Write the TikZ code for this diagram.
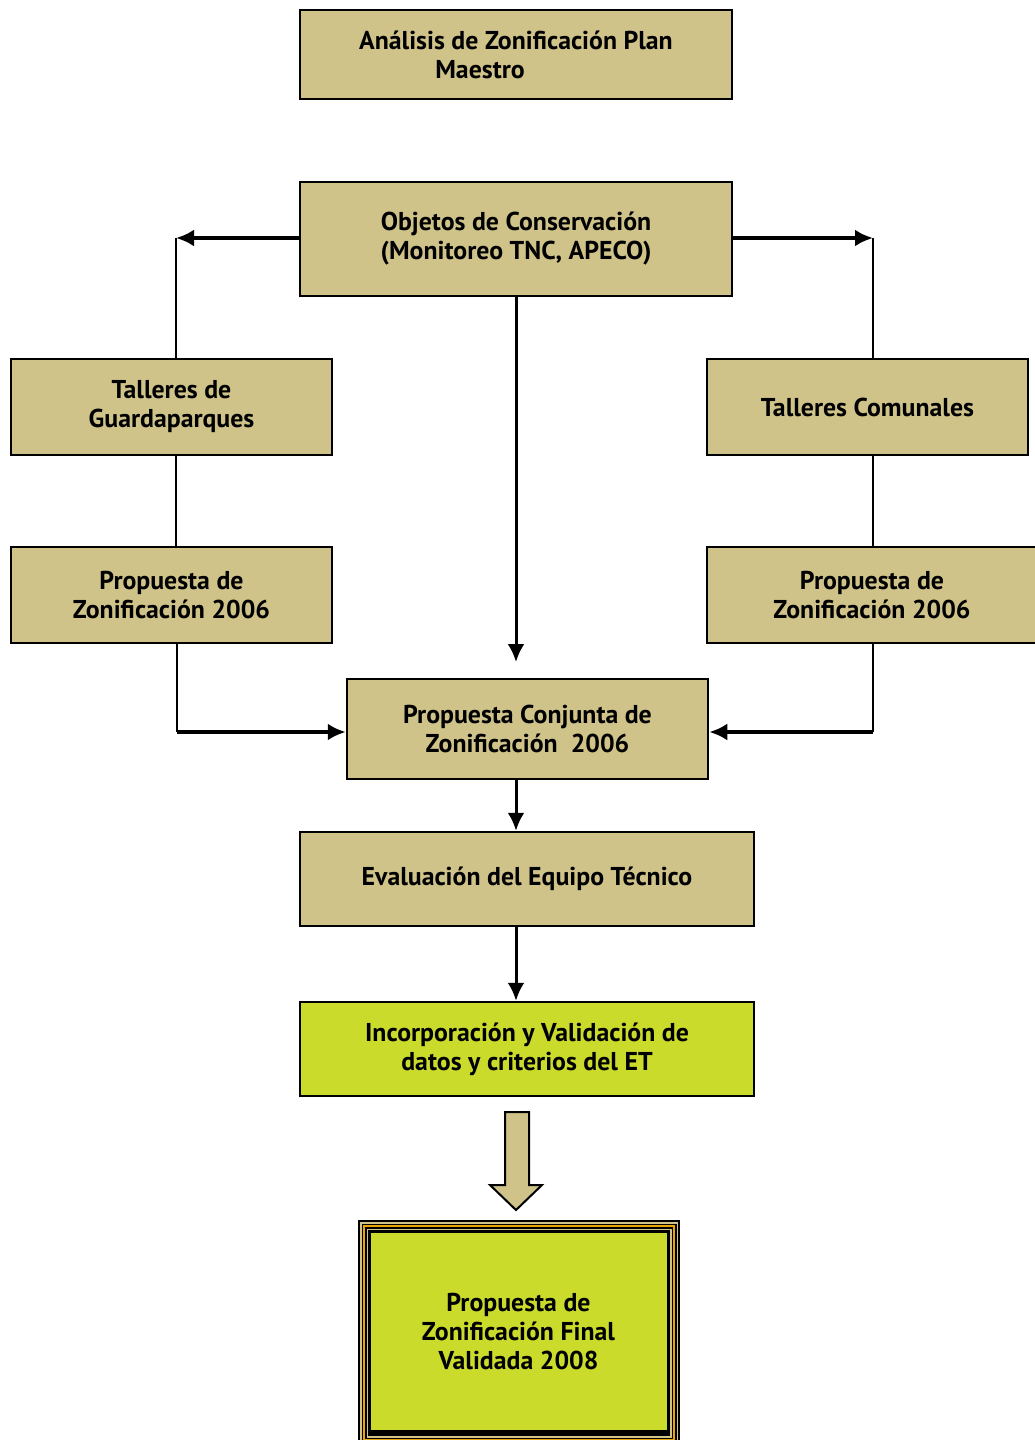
\documentclass[tikz,border=0pt]{standalone}
\usepackage{fontspec}
\setmainfont{PT Sans}
\usetikzlibrary{arrows.meta}

\definecolor{khaki}{RGB}{207,195,138}
\definecolor{limegreen}{RGB}{203,219,43}
\definecolor{goldorange}{RGB}{235,165,0}

\def\schrift{\fontsize{25.8}{29}\selectfont\bfseries}

\tikzset{
	kasten/.style={draw=black,line width=2.5,fill=khaki,align=center,
		inner sep=0,font=\schrift},
	gruenkasten/.style={kasten,fill=limegreen},
	pfeil/.style={->,line width=3.5},
	linie/.style={line width=2},
}

\begin{document}
\begin{tikzpicture}[x=1pt,y=-1pt,>={Latex[length=18pt,width=17pt]}]

\useasboundingbox (0,0) rectangle (1035,1440);

% Kaesten
\node[kasten,minimum width=432,minimum height=89] (plan) at (516,54.5)
	{An\'alisis de Zonificaci\'on Plan\\Maestro\hspace*{72pt}};
\node[kasten,minimum width=432,minimum height=114] (objetos) at (516,239)
	{Objetos de Conservaci\'on\\(Monitoreo TNC, APECO)};
\node[kasten,minimum width=321,minimum height=96] (tallerg) at (171.5,407)
	{Talleres de\\Guardaparques};
\node[kasten,minimum width=321,minimum height=96] (tallerc) at (867.5,407)
	{Talleres Comunales};
\node[kasten,minimum width=321,minimum height=96] (propl) at (171.5,595)
	{Propuesta de\\Zonificaci\'on 2006};
\node[kasten,minimum width=330,minimum height=96] (propr) at (872,595)
	{Propuesta de\\Zonificaci\'on 2006};
\node[kasten,minimum width=361,minimum height=100] (conjunta) at (527.5,729)
	{Propuesta Conjunta de\\Zonificaci\'on~~2006};
\node[kasten,minimum width=454,minimum height=94] (evaluacion) at (527,879)
	{Evaluaci\'on del Equipo T\'ecnico};
\node[gruenkasten,minimum width=454,minimum height=94] (incorp) at (527,1049)
	{Incorporaci\'on y Validaci\'on de\\datos y criterios del ET};

% Rahmen um den letzten Kasten
\foreach \d/\c in {0/black,2/khaki,3.5/black,5/goldorange,7/black,8.5/khaki,10/black}{
	\fill[color=\c] ({358+\d},{1220+\d}) rectangle ({680-\d},{1446-\d});
}
\node[gruenkasten,draw=none,minimum width=296,minimum height=197] (final) at (518.5,1331.5)
	{Propuesta de\\Zonificaci\'on Final\\Validada 2008};

% Blockpfeil
\draw[line width=2,fill=khaki] (505,1112) -- (529,1112) -- (529,1185) -- (542,1185)
	-- (516,1210) -- (490,1185) -- (505,1185) -- cycle;

% linke Seite
\coordinate (ol) at (176,238);
\coordinate (ul) at (177,732);
\draw[pfeil] (objetos.west |- ol) -- (ol);
\draw[linie] (ol) -- (ol |- tallerg.north);
\draw[linie] (ol |- tallerg.south) -- (ol |- propl.north);
\draw[linie] (ul |- propl.south) -- (ul);
\draw[pfeil] (ul) -- (conjunta.west |- ul);

% rechte Seite
\coordinate (or) at (873,238);
\coordinate (ur) at (873,732);
\draw[pfeil] (objetos.east |- or) -- (or);
\draw[linie] (or) -- (or |- tallerc.north);
\draw[linie] (or |- tallerc.south) -- (or |- propr.north);
\draw[linie] (ur |- propr.south) -- (ur);
\draw[pfeil] (ur) -- (conjunta.east |- ur);

% Mitte
\coordinate (mc) at (516,662);
\draw[pfeil,line width=3] (objetos.south -| mc) -- (mc);
\draw[pfeil,line width=3] (conjunta.south -| mc) -- (evaluacion.north -| mc);
\draw[pfeil,line width=3] (evaluacion.south -| mc) -- (incorp.north -| mc);

\end{tikzpicture}
\end{document}
